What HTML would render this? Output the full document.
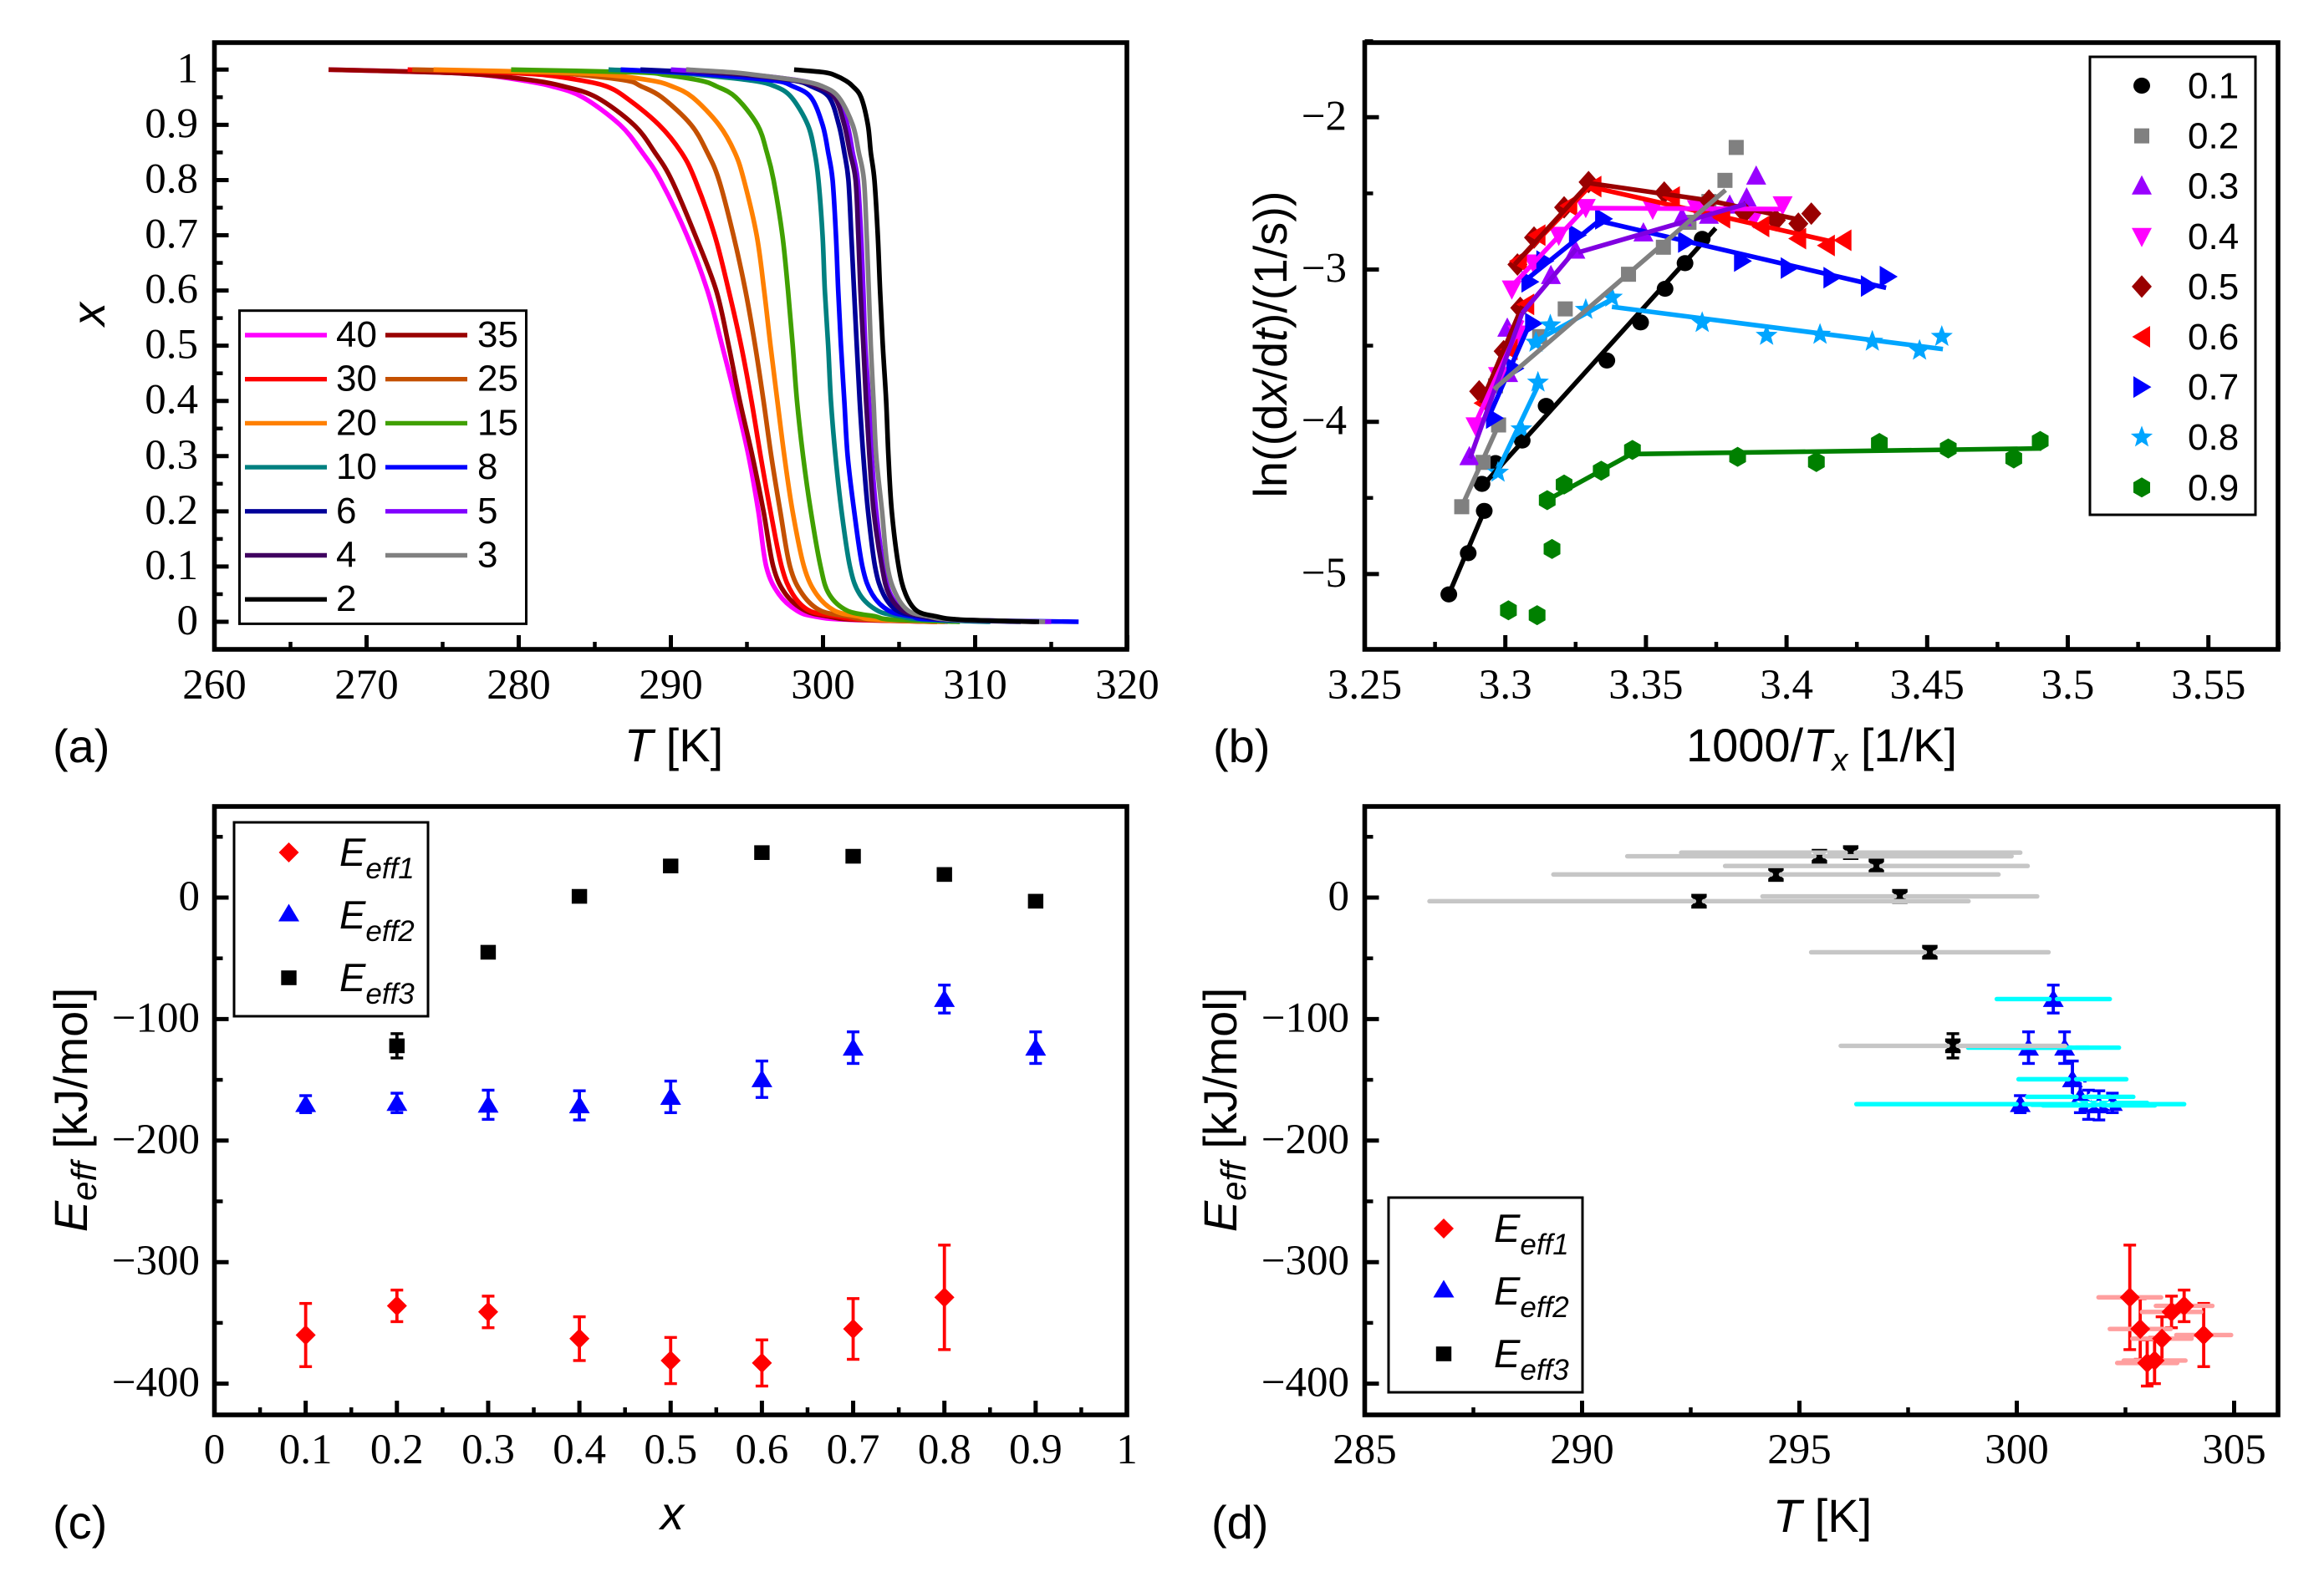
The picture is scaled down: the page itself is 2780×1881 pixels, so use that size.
<!DOCTYPE html>
<html lang="en">
<head>
<meta charset="utf-8">
<title>Crystallization kinetics panels</title>
<style>
html,body{margin:0;padding:0;background:#fff;}
svg{display:block;}
.tick{font-family:"Liberation Serif",serif;font-size:51px;fill:#000;}
.ttl{font-family:"Liberation Sans",sans-serif;font-size:56px;fill:#000;}
.lbl{font-family:"Liberation Sans",sans-serif;font-size:56px;fill:#000;}
.leg{font-family:"Liberation Sans",sans-serif;font-size:44px;fill:#000;}
.legE{font-family:"Liberation Sans",sans-serif;font-size:47px;font-style:italic;fill:#000;}
.it{font-style:italic;}
</style>
</head>
<body>
<svg id="fig" xmlns="http://www.w3.org/2000/svg" width="2780" height="1881" viewBox="0 0 2780 1881">
  <rect x="0" y="0" width="2780" height="1881" fill="#fff"/>
  <g id="panelA"></g>
  <g id="panelB"></g>
  <g id="panelC"></g>
  <g id="panelD"></g>

  <text class="lbl" x="63" y="912">(a)</text>
  <text class="lbl" x="1451" y="912">(b)</text>
  <text class="lbl" x="63" y="1841">(c)</text>
  <text class="lbl" x="1449" y="1841">(d)</text>

  <text class="ttl" x="806" y="911" text-anchor="middle"><tspan class="it">T</tspan> [K]</text>
  <text class="ttl" x="125" y="376" text-anchor="middle" transform="rotate(-90 125 376)"><tspan class="it">x</tspan></text>

  <text class="ttl" x="2179" y="911" text-anchor="middle">1000/<tspan class="it">T</tspan><tspan class="it" font-size="38" dy="11">x</tspan><tspan dy="-11"> [1/K]</tspan></text>
  <text class="ttl" x="1539" y="412" text-anchor="middle" transform="rotate(-90 1539 412)">ln((d<tspan class="it">x</tspan>/d<tspan class="it">t</tspan>)/(1/s))</text>

  <text class="ttl" x="804" y="1830" text-anchor="middle"><tspan class="it">x</tspan></text>
  <text class="ttl" x="104" y="1328" text-anchor="middle" transform="rotate(-90 104 1328)"><tspan class="it">E</tspan><tspan class="it" font-size="42" dy="11">eff</tspan><tspan dy="-11"> [kJ/mol]</tspan></text>

  <text class="ttl" x="2180" y="1833" text-anchor="middle"><tspan class="it">T</tspan> [K]</text>
  <text class="ttl" x="1479" y="1328" text-anchor="middle" transform="rotate(-90 1479 1328)"><tspan class="it">E</tspan><tspan class="it" font-size="42" dy="11">eff</tspan><tspan dy="-11"> [kJ/mol]</tspan></text>
</svg>

<script>
/* ---------- panel (a) data ---------- */
const curveLevels = [1,.995,.99,.98,.97,.95,.9,.85,.8,.7,.6,.5,.4,.3,.2,.1,.05,.02,.01,.004,0];
const T40 = [267.5,274.66,277.8,280.34,282.17,284.2,286.66,288.12,289.31,291.05,292.4,293.37,294.28,295.11,295.75,296.27,297.1,298.29,299.39,301.5,308.2];
const T35 = [267.5,274.66,277.96,281.07,282.9,285.1,287.57,288.95,290.05,291.6,292.98,293.8,294.53,295.36,296.09,296.73,297.55,298.84,300.3,302,307.5];
const T30 = [272.7,278.69,281.8,284.2,285.74,287.02,289.22,290.69,291.6,292.88,293.8,294.62,295.3,295.9,296.55,297.28,298.01,299.11,300.85,302.5,307.5];
const T25 = [273,281.44,284.2,287.12,288.03,289.4,291.33,292.39,293.16,294.11,294.9,295.54,296.09,296.6,297.19,297.83,298.65,299.85,301.6,303,307.5];
const T20 = [274.4,282.35,286,288.76,290.05,291.42,293.16,294.2,294.8,295.64,296.13,296.55,297,297.46,298,298.75,299.57,300.76,302.3,303.5,308];
const T15 = [279.5,287.85,289.7,291.97,292.98,294.26,295.69,296.31,296.75,297.33,297.7,298.01,298.29,298.69,299.2,299.84,300.4,301.6,303.4,304.5,309];
const T10 = [285.9,290,292.06,295.36,296.82,297.92,299,299.45,299.7,299.97,300.12,300.34,300.52,300.82,301.22,301.77,302.41,303.6,305.06,306.5,311];
const T8 = [286.7,290.5,293,296.82,298,299.2,299.97,300.34,300.63,300.85,301,301.18,301.4,301.62,302.05,302.59,303.23,304.33,305.8,307.5,316.8];
const T6 = [288,292,295,298.1,299.2,300.4,301.04,301.4,301.67,301.86,302.04,302.22,302.41,302.65,302.96,303.42,303.97,304.88,306.35,308,313];
const T5 = [290,293,295.5,298.5,299.8,300.95,301.6,301.95,302.28,302.5,302.65,302.78,303.02,303.2,303.5,303.97,304.43,305.35,306.8,308.5,315];
const T4 = [291,293,295.3,298.3,299.57,300.76,301.4,301.77,302.14,302.32,302.46,302.65,302.83,303.05,303.33,303.87,304.33,305.25,306.7,308.5,314];
const T3 = [291,294,295.7,298.47,299.94,301.03,301.95,302.35,302.69,302.87,303.01,303.14,303.32,303.5,303.88,304.24,304.79,305.61,306.9,308.5,314.6];
const T2 = [298.1,300.1,300.76,301.49,301.95,302.5,302.95,303.14,303.38,303.6,303.75,303.93,304.15,304.3,304.52,304.97,305.43,306.16,307.4,309,314.2];
const curveLabels = ['40','35','30','25','20','15','10','8','6','5','4','3','2'];
const curveValues = [T40,T35,T30,T25,T20,T15,T10,T8,T6,T5,T4,T3,T2];
const curveColors = ['#ff00ff','#990000','#ff0000','#c45000','#ff8000','#40a000','#008080','#0000ff','#000099','#8000ff','#400060','#808080','#000000'];
const aXTicks = [260,270,280,290,300,310,320];
const aYTicks = ['0','0.1','0.2','0.3','0.4','0.5','0.6','0.7','0.8','0.9','1'];

/* ---------- panel (b) data ---------- */
const b1x = [3.2799,3.2868,3.2925,3.2917,3.2965,3.3060,3.3145,3.3361,3.3481,3.3568,3.3639,3.3700];
const b1y = [-5.1335,-4.8627,-4.5851,-4.4077,-4.2711,-4.1233,-3.8957,-3.5976,-3.3474,-3.1266,-2.9583,-2.7990];
const b1fit = [[3.2799,-5.1335,3.2925,-4.5851],[3.2934,-4.3895,3.3748,-2.7285]];
const b2x = [3.2845,3.2921,3.2976,3.2965,3.3122,3.3213,3.3438,3.3562,3.3653,3.3724,3.3781,3.3821];
const b2y = [-4.5578,-4.2666,-4.0208,-3.7638,-3.4407,-3.2586,-3.0311,-2.8536,-2.6898,-2.5533,-2.4145,-2.1983];
const b2fit = [[3.2845,-4.5578,3.2976,-4.0208],[3.2960,-3.7865,3.3783,-2.4782]];
const b3x = [3.2872,3.3010,3.3007,3.3162,3.3249,3.3491,3.3628,3.3724,3.3798,3.3858,3.3892];
const b3y = [-4.2302,-3.6841,-3.3860,-3.0402,-2.8741,-2.7603,-2.6602,-2.6443,-2.5783,-2.5305,-2.3872];
const b3fit = [[3.2874,-4.2416,3.3060,-3.2859],[3.3060,-3.2859,3.3252,-2.8650],[3.3259,-2.8878,3.3856,-2.5692]];
const b4x = [3.2894,3.2974,3.3044,3.3023,3.3100,3.3190,3.3286,3.3524,3.3681,3.3883,3.3986];
const b4y = [-4.0254,-3.6955,-3.4225,-3.1267,-2.9560,-2.7740,-2.5920,-2.6033,-2.5988,-2.6602,-2.5738];
const b4fit = [[3.2901,-3.9799,3.3060,-3.3314],[3.3020,-3.1153,3.3286,-2.5920],[3.3286,-2.5965,3.3989,-2.6033]];
const b5x = [3.2907,3.2994,3.3053,3.3043,3.3102,3.3209,3.3296,3.3565,3.3724,3.3850,3.3962,3.4042,3.4088];
const b5y = [-3.8003,-3.5362,-3.2518,-2.9674,-2.7899,-2.5920,-2.4259,-2.4941,-2.5464,-2.6261,-2.6762,-2.6989,-2.6329];
const b5fit = [[3.2914,-3.8775,3.3060,-3.2404],[3.3033,-2.9674,3.3299,-2.4327],[3.3299,-2.4327,3.3724,-2.5464],[3.3724,-2.5464,3.4042,-2.6716]];
const b6x = [3.2921,3.3014,3.3073,3.3047,3.3113,3.3226,3.3312,3.3591,3.3770,3.3909,3.4040,3.4142,3.4201];
const b6y = [-3.8775,-3.5249,-3.2290,-2.9446,-2.7740,-2.5806,-2.4554,-2.5237,-2.6602,-2.7171,-2.7967,-2.8422,-2.8081];
const b6fit = [[3.2927,-3.9003,3.3067,-3.2404],[3.3033,-2.9674,3.3299,-2.4554],[3.3299,-2.4554,3.4168,-2.8195]];
const b7x = [3.2961,3.3034,3.3100,3.3087,3.3140,3.3256,3.3349,3.3644,3.3843,3.4009,3.4161,3.4294,3.4361];
const b7y = [-3.9754,-3.6500,-3.3542,-3.0811,-2.9446,-2.7740,-2.6671,-2.8195,-2.9446,-2.9901,-3.0538,-3.1085,-3.0470];
const b7fit = [[3.2941,-3.9685,3.3087,-3.3542],[3.3080,-3.0584,3.3339,-2.6716],[3.3339,-2.6830,3.4354,-3.1199]];
const b8x = [3.2974,3.3057,3.3116,3.3109,3.3160,3.3286,3.3379,3.3700,3.3929,3.4119,3.4305,3.4473,3.4552];
const b8y = [-4.3326,-4.0482,-3.7410,-3.4793,-3.3656,-3.2632,-3.1835,-3.3497,-3.4338,-3.4270,-3.4725,-3.5317,-3.4406];
const b8fit = [[3.2961,-4.3667,3.3116,-3.7637],[3.3087,-3.4907,3.3379,-3.1949],[3.3379,-3.2450,3.4556,-3.5226]];
const b9x = [3.3011,3.3113,3.3166,3.3149,3.3209,3.3341,3.3452,3.3826,3.4106,3.4330,3.4575,3.4808,3.4902];
const b9y = [-5.2382,-5.2700,-4.8354,-4.5146,-4.4122,-4.3212,-4.1847,-4.2302,-4.2643,-4.1391,-4.1751,-4.2409,-4.1257];
const b9fit = [[3.3149,-4.5146,3.3452,-4.2075],[3.3452,-4.2120,3.4906,-4.1751]];
const bLabels = ['0.1','0.2','0.3','0.4','0.5','0.6','0.7','0.8','0.9'];
const bXs = [b1x,b2x,b3x,b4x,b5x,b6x,b7x,b8x,b9x];
const bYs = [b1y,b2y,b3y,b4y,b5y,b6y,b7y,b8y,b9y];
const bFits = [b1fit,b2fit,b3fit,b4fit,b5fit,b6fit,b7fit,b8fit,b9fit];
const bColors = ['#000000','#808080','#9900ff','#ff00ff','#990000','#ff0000','#0000ff','#00a5ff','#008000'];
const bLineColors = ['#000000','#808080','#8000e0','#ff00ff','#990000','#ff0000','#0000ff','#00a5ff','#008000'];
const bShapes = ['circle','square','up','down','diamond','left','right','star','hex'];
const bLineOrder = [0,8,7,6,5,4,3,2,1];
const bXTicks = ['3.25','3.3','3.35','3.4','3.45','3.5','3.55'];
const bYTicks = [-2,-3,-4,-5];

/* ---------- panels (c) and (d) data ---------- */
const comp1 = [.1,.2,.3,.4,.5,.6,.7,.8];
const eff1 = [-360,-336,-341,-363,-381,-383,-355,-329];
const eff1Err = [26,13,13,18,19,19,25,43];
const T1 = [304.3,303.85,303.56,303.34,303.17,303.0,302.84,302.6];
const T1Err = [.63,.65,.68,.68,.71,.69,.7,.72];
const comp2 = [.1,.2,.3,.4,.5,.6,.7,.8,.9];
const eff2 = [-170,-169,-170.5,-171,-164,-149.5,-123.5,-83.5,-123.5];
const eff2Err = [7,8,12,12,13,15,13,11.5,13];
const Te2 = [300.08,302.2,301.65,301.89,301.46,301.28,300.27,300.84,301.1];
const Te2Err = [3.77,.8,1.3,1.29,1.22,1.24,1.39,1.3,1.25];
const comp3 = [.2,.3,.4,.5,.6,.7,.8,.9];
const eff3 = [-122,-45,1,26,37,34,19,-3];
const eff3Err = [10,4,3,3,3,3,3,3];
const Te3 = [298.53,298,297.31,296.77,296.18,295.46,294.46,292.69];
const Te3Err = [2.58,2.73,3.16,3.48,3.9,4.42,5.12,6.2];
const cXTicks = ['0','0.1','0.2','0.3','0.4','0.5','0.6','0.7','0.8','0.9','1'];
const eTicks = [0,-100,-200,-300,-400];
const dXTicks = [285,290,295,300,305];

/* ---------- axis functions ---------- */
const xA = v => 256.5 + (v - 260) * 18.2;
const yA = v => 744 - 660.7 * v;
const xB = v => 1632.5 + (v - 3.25) * 3364;
const yB = v => 140.3 - (v + 2) * 182.2;
const xC = v => 256.5 + v * 1091.5;
const yE1 = v => 1074 - v * 1.454;
const xD = v => 1632.5 + (v - 285) * 52;

const NS = 'http://www.w3.org/2000/svg';
function mk(parent, tag, props, name) {
  const el = document.createElementNS(NS, tag);
  for (const k in props) el.setAttribute(k, props[k]);
  
  
  parent.appendChild(el);
  return el;
}
function segment(p, x1, y1, x2, y2, color, w, name, cap) {
  return mk(p, 'line', {x1, y1, x2, y2, stroke: color, 'stroke-width': w, 'stroke-linecap': cap || 'butt'}, name);
}
function label(p, x, y, str, anchor, cls, name) {
  const t = mk(p, 'text', {x, y, 'text-anchor': anchor, class: cls}, name);
  t.textContent = str;
  return t;
}
function polyPts(cx, cy, pts) {
  return pts.map(q => (cx + q[0]).toFixed(2) + ',' + (cy + q[1]).toFixed(2)).join(' ');
}
function marker(p, shape, cx, cy, color, name) {
  if (shape === 'circle') return mk(p, 'ellipse', {cx, cy, rx: 10, ry: 9.6, fill: color}, name);
  if (shape === 'square') return mk(p, 'rect', {x: cx - 9, y: cy - 9, width: 18, height: 18, fill: color}, name);
  let pts;
  if (shape === 'up') pts = [[0, -13], [12, 10], [-12, 10]];
  if (shape === 'down') pts = [[0, 13], [12, -10], [-12, -10]];
  if (shape === 'left') pts = [[-11.5, 0], [10, -13], [10, 13]];
  if (shape === 'right') pts = [[11.5, 0], [-10, -13], [-10, 13]];
  if (shape === 'diamond') pts = [[0, -13.5], [12, 0], [0, 13.5], [-12, 0]];
  if (shape === 'hex') pts = [[0, -12], [10, -6.2], [10, 6.2], [0, 12], [-10, 6.2], [-10, -6.2]];
  if (shape === 'star') {
    pts = [];
    for (let i = 0; i < 10; i++) {
      const r = i % 2 ? 5.8 : 13.8;
      const a = -Math.PI / 2 + i * Math.PI / 5;
      pts.push([r * Math.cos(a), r * Math.sin(a)]);
    }
  }
  return mk(p, 'polygon', {points: polyPts(cx, cy, pts), fill: color}, name);
}
function frame(p, box) {
  mk(p, 'rect', {x: box.l, y: box.t, width: box.r - box.l, height: box.b - box.t, fill: 'none', stroke: '#000', 'stroke-width': 5.6}, 'plot-frame');
}
function xTick(p, x, box, major) {
  segment(p, x, box.b, x, box.b - (major ? 17 : 9), '#000', major ? 5 : 4.5, major ? 'x-major-tick' : 'x-minor-tick');
}
function yTick(p, y, box, major) {
  segment(p, box.l, y, box.l + (major ? 17 : 10), y, '#000', major ? 5 : 4.5, major ? 'y-major-tick' : 'y-minor-tick');
}
function legendBox(p, x1, y1, x2, y2, name) {
  mk(p, 'rect', {x: x1, y: y1, width: x2 - x1, height: y2 - y1, fill: '#fff', stroke: '#000', 'stroke-width': 3}, name);
}
function smoothPath(pts) {
  let d = 'M' + pts[0][0].toFixed(2) + ' ' + pts[0][1].toFixed(2);
  for (let i = 0; i < pts.length - 1; i++) {
    const p0 = pts[Math.max(i - 1, 0)], p1 = pts[i], p2 = pts[i + 1], p3 = pts[Math.min(i + 2, pts.length - 1)];
    const c1x = p1[0] + (p2[0] - p0[0]) / 6, c1y = p1[1] + (p2[1] - p0[1]) / 6;
    const c2x = p2[0] - (p3[0] - p1[0]) / 6, c2y = p2[1] - (p3[1] - p1[1]) / 6;
    d += 'C' + [c1x, Math.max(c1y, yA(1)), c2x, Math.max(c2y, yA(1)), p2[0], p2[1]].map(n => n.toFixed(2)).join(' ');
  }
  return d;
}

/* ---------- panel (a) ---------- */
(function () {
  const g = document.getElementById('panelA');
  const box = {l: 256.5, r: 1348, t: 51, b: 777};
  curveValues.forEach((ts, i) => {
    const pts = ts.map((t, j) => [xA(t), yA(curveLevels[j])]);
    mk(g, 'path', {d: smoothPath(pts), fill: 'none', stroke: curveColors[i], 'stroke-width': 5.6, 'stroke-linejoin': 'round'}, 'curve-rate-' + curveLabels[i]);
  });
  aXTicks.forEach((v, i) => {
    xTick(g, xA(v), box, true);
    if (i < aXTicks.length - 1) xTick(g, xA(v + 5), box, false);
    label(g, xA(v), 836, String(v), 'middle', 'tick', 'x-tick-label');
  });
  aYTicks.forEach((s, i) => {
    const v = Number(s);
    yTick(g, yA(v), box, true);
    if (i < aYTicks.length - 1) yTick(g, yA(v + .05), box, false);
    label(g, 237, yA(v) + 15, s, 'end', 'tick', 'y-tick-label');
  });
  yTick(g, yA(-.05), box, false);
  frame(g, box);
  legendBox(g, 286.5, 371.7, 629.5, 746.4, 'rate-legend');
  curveLabels.forEach((lab, i) => {
    const col = i % 2, row = Math.floor(i / 2);
    const y = 401 + row * 52.7;
    const x0 = col ? 461 : 293;
    segment(g, x0, y, x0 + 98, y, curveColors[i], 5.4, 'legend-line-' + lab);
    label(g, col ? 571 : 402, y + 14, lab, 'start', 'leg', 'legend-label-' + lab);
  });
})();

/* ---------- panel (b) ---------- */
(function () {
  const g = document.getElementById('panelB');
  const box = {l: 1632.5, r: 2725, t: 51, b: 777};
  bLabels.forEach((lab, i) => {
    bXs[i].forEach((x, j) => marker(g, bShapes[i], xB(x), yB(bYs[i][j]), bColors[i], 'point-x-' + lab));
  });
  bLineOrder.forEach(i => {
    bFits[i].forEach(s => segment(g, xB(s[0]), yB(s[1]), xB(s[2]), yB(s[3]), bLineColors[i], 5.6, 'fit-line-x-' + bLabels[i]));
  });
  bXTicks.forEach((s, i) => {
    const v = Number(s);
    if (i > 0) xTick(g, xB(v), box, true);
    if (i < bXTicks.length) xTick(g, xB(v + .025), box, false);
    label(g, xB(v), 836, s, 'middle', 'tick', 'x-tick-label');
  });
  bYTicks.forEach(v => {
    yTick(g, yB(v), box, true);
    label(g, 1611, yB(v) + 15, '\u2212' + Math.abs(v), 'end', 'tick', 'y-tick-label');
    yTick(g, yB(v + .5), box, false);
  });
  frame(g, box);
  legendBox(g, 2500, 68, 2698, 616, 'composition-legend');
  bLabels.forEach((lab, i) => {
    const y = 102.5 + i * 60.1;
    marker(g, bShapes[i], 2562, y, bColors[i], 'legend-marker-' + lab);
    label(g, 2617, y + 15, lab, 'start', 'leg', 'legend-label-' + lab);
  });
})();

/* ---------- shared for (c), (d) ---------- */
const effColors = ['#ff0000', '#0000ff', '#000000'];
const effShapes = ['diamond', 'up', 'square'];
const effNames = ['eff1', 'eff2', 'eff3'];
const hmark = {diamond: 12, up: 12.5, square: 9};
function vErr(g, x, y, err, color, name) {
  segment(g, x, yE1(y - err), x, yE1(y + err), color, 3.8, name);
  segment(g, x - 7.5, yE1(y + err), x + 7.5, yE1(y + err), color, 3.4, name + '-cap-top');
  segment(g, x - 7.5, yE1(y - err), x + 7.5, yE1(y - err), color, 3.4, name + '-cap-bottom');
}
function effMarker(g, type, x, y) {
  const s = effShapes[type];
  if (s === 'diamond') return mk(g, 'polygon', {points: polyPts(x, y, [[0, -12], [12, 0], [0, 12], [-12, 0]]), fill: effColors[type]}, 'point-' + effNames[type]);
  if (s === 'up') return mk(g, 'polygon', {points: polyPts(x, y, [[0, -11.5], [12.5, 9.5], [-12.5, 9.5]]), fill: effColors[type]}, 'point-' + effNames[type]);
  return mk(g, 'rect', {x: x - 9.2, y: y - 8.8, width: 18.4, height: 17.6, fill: effColors[type]}, 'point-' + effNames[type]);
}
function eLegend(g, x1, y1, x2, y2, mx, my, tx, ty) {
  legendBox(g, x1, y1, x2, y2, 'energy-legend');
  effNames.forEach((n, i) => {
    effMarker(g, i, mx, my[i]);
    const t = mk(g, 'text', {x: tx, y: ty[i], class: 'legE'}, 'legend-label-' + n);
    const a = mk(t, 'tspan', {}, 'legend-symbol');
    a.textContent = 'E';
    const b = mk(t, 'tspan', {'font-size': 35, dy: 15}, 'legend-subscript');
    b.textContent = n;
  });
}
function eTickLabels(g, box, right) {
  eTicks.forEach(v => {
    yTick(g, yE1(v), box, true);
    yTick(g, yE1(v + 50), box, false);
    label(g, right, yE1(v) + 15, v === 0 ? '0' : '\u2212' + Math.abs(v), 'end', 'tick', 'y-tick-label');
  });
}

/* ---------- panel (c) ---------- */
(function () {
  const g = document.getElementById('panelC');
  const box = {l: 256.5, r: 1348, t: 965, b: 1693};
  [[comp1, eff1, eff1Err], [comp2, eff2, eff2Err], [comp3, eff3, eff3Err]].forEach((s, type) => {
    s[0].forEach((c, i) => {
      vErr(g, xC(c), s[1][i], s[2][i], effColors[type], 'error-bar-' + effNames[type]);
      effMarker(g, type, xC(c), yE1(s[1][i]));
    });
  });
  cXTicks.forEach((s, i) => {
    const v = Number(s);
    xTick(g, xC(v), box, true);
    if (i < cXTicks.length - 1) xTick(g, xC(v + .05), box, false);
    label(g, xC(v), 1751, s, 'middle', 'tick', 'x-tick-label');
  });
  eTickLabels(g, box, 239);
  frame(g, box);
  eLegend(g, 280, 984, 512, 1216, 345.5, [1020, 1093, 1170], 406, [1036, 1111, 1186]);
})();

/* ---------- panel (d) ---------- */
(function () {
  const g = document.getElementById('panelD');
  const box = {l: 1632.5, r: 2725, t: 965, b: 1693};
  const barColors = ['#ff9f9f', '#00ffff', '#c6c6c6'];
  const sets = [[T1, eff1, eff1Err, T1Err], [Te2, eff2, eff2Err, Te2Err], [Te3, eff3, eff3Err, Te3Err]];
  sets.forEach((s, type) => {
    s[0].forEach((t, i) => vErr(g, xD(t), s[1][i], s[2][i], effColors[type], 'error-bar-' + effNames[type]));
    if (type === 0) {
      s[0].forEach((t, i) => segment(g, xD(t - s[3][i]), yE1(s[1][i]), xD(t + s[3][i]), yE1(s[1][i]), barColors[type], 5.4, 'temperature-error-' + effNames[type], 'round'));
    }
    s[0].forEach((t, i) => effMarker(g, type, xD(t), yE1(s[1][i])));
    if (type > 0) {
      const gap = type === 2 ? 6 : 4.5;
      s[0].forEach((t, i) => {
        const cx = xD(t), cy = yE1(s[1][i]), hw = hmark[effShapes[type]] + .5;
        mk(g, 'polygon', {points: polyPts(cx, cy, [[-hw, -5], [-3.5, 0], [-hw, 5]]), fill: '#fff'}, 'marker-notch-left');
        mk(g, 'polygon', {points: polyPts(cx, cy, [[hw, -5], [3.5, 0], [hw, 5]]), fill: '#fff'}, 'marker-notch-right');
        segment(g, xD(t - s[3][i]), cy, cx - gap, cy, barColors[type], 5.4, 'temperature-error-' + effNames[type], 'round');
        segment(g, cx + gap, cy, xD(t + s[3][i]), cy, barColors[type], 5.4, 'temperature-error-' + effNames[type], 'round');
      });
    }
  });
  dXTicks.forEach((v, i) => {
    if (i > 0) xTick(g, xD(v), box, true);
    xTick(g, xD(v + 2.5), box, false);
    label(g, xD(v), 1751, String(v), 'middle', 'tick', 'x-tick-label');
  });
  eTickLabels(g, box, 1614);
  frame(g, box);
  eLegend(g, 1661, 1433, 1893, 1666, 1727, [1470, 1543, 1620], 1787, [1486, 1561, 1636]);
})();
</script>
</body>
</html>
